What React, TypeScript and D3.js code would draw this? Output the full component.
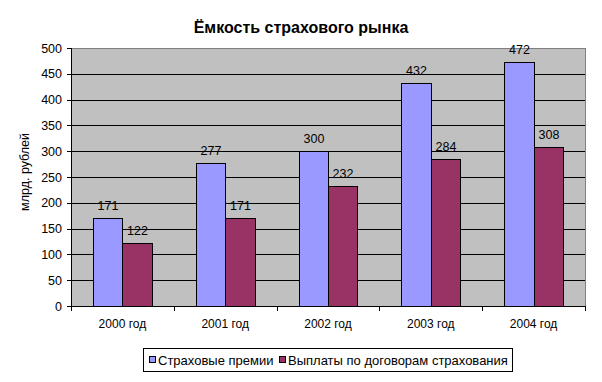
import React from "react";
import * as d3 from "d3";

const categories = ["2000 год", "2001 год", "2002 год", "2003 год", "2004 год"];
const premiums = [171, 277, 300, 432, 472];
const payouts = [122, 171, 232, 284, 308];
const seriesNames = ["Страховые премии", "Выплаты по договорам страхования"];
const yTicks = [0, 50, 100, 150, 200, 250, 300, 350, 400, 450, 500];
const title = "Ёмкость страхового рынка";
const yTitle = "млрд. рублей";

const W = 602;
const H = 382;
const left = 71;
const right = 585;
const top = 48;
const bottom = 306;
const colors = ["#9999FF", "#993366"];
const font = "'Liberation Sans', Arial, sans-serif";

export default function App() {
  const x = d3.scaleBand<string>().domain(categories).range([left, right]).padding(0);
  const y = d3.scaleLinear().domain([0, 500]).range([bottom, top]);
  const bw = x.bandwidth() / 3.5;
  const off = bw * 0.75;
  const series = [premiums, payouts];

  return (
    <svg
      width={W}
      height={H}
      style={{ position: "absolute", left: 0, top: 0, background: "#fff" }}
      fontFamily={font}
    >
      <rect x={0} y={0} width={W} height={H} fill="#fff" />
      <text x={301} y={33} textAnchor="middle" fontSize={16} fontWeight="bold" fill="#000">
        {title}
      </text>
      {/* plot area */}
      <rect x={left} y={top} width={right - left} height={bottom - top} fill="#C0C0C0" />
      <line x1={left} x2={right + 0.5} y1={top + 0.5} y2={top + 0.5} stroke="#808080" />
      <line x1={right + 0.5} x2={right + 0.5} y1={top} y2={bottom} stroke="#808080" />
      {yTicks.slice(1, -1).map((t) => (
        <line
          key={t}
          x1={left}
          x2={right}
          y1={Math.round(y(t)) + 0.5}
          y2={Math.round(y(t)) + 0.5}
          stroke="#000"
        />
      ))}
      {/* bars */}
      {categories.map((c, i) =>
        series.map((s, j) => {
          const x0 = Math.round((x(c) as number) + off + j * bw);
          const x1 = Math.round((x(c) as number) + off + (j + 1) * bw);
          const yt = Math.round(y(s[i]));
          return (
            <g key={c + j}>
              <rect
                x={x0 + 0.5}
                y={yt + 0.5}
                width={x1 - x0}
                height={bottom - yt}
                fill={colors[j]}
                stroke="#000"
                strokeWidth={1}
              />
              <text
                x={(x0 + x1) / 2 + 0.5}
                y={yt - 8}
                textAnchor="middle"
                fontSize={12.5}
                fill="#000"
              >
                {s[i]}
              </text>
            </g>
          );
        })
      )}
      {/* axes */}
      <line x1={left + 0.5} x2={left + 0.5} y1={top} y2={bottom + 1} stroke="#000" />
      <line x1={left} x2={right + 1} y1={bottom + 0.5} y2={bottom + 0.5} stroke="#000" />
      {yTicks.map((t) => (
        <g key={t}>
          <line
            x1={left - 4}
            x2={left}
            y1={Math.round(y(t)) + 0.5}
            y2={Math.round(y(t)) + 0.5}
            stroke="#000"
          />
          <text x={62} y={y(t) + 4.5} textAnchor="end" fontSize={12.5} fill="#000">
            {t}
          </text>
        </g>
      ))}
      {categories.map((c, i) => (
        <line
          key={"t" + i}
          x1={Math.round(x(c) as number) + 0.5}
          x2={Math.round(x(c) as number) + 0.5}
          y1={bottom}
          y2={bottom + 5}
          stroke="#000"
        />
      ))}
      <line x1={right + 0.5} x2={right + 0.5} y1={bottom} y2={bottom + 5} stroke="#000" />
      {categories.map((c) => (
        <text
          key={"l" + c}
          x={(x(c) as number) + x.bandwidth() / 2}
          y={328}
          textAnchor="middle"
          fontSize={12}
          fill="#000"
        >
          {c}
        </text>
      ))}
      <text
        transform={`translate(29,${(top + bottom) / 2 - 5}) rotate(-90)`}
        textAnchor="middle"
        fontSize={12.5}
        fill="#000"
      >
        {yTitle}
      </text>
      {/* legend */}
      <rect x={143.5} y={348.5} width={369} height={23} fill="#fff" stroke="#000" />
      <rect x={149.5} y={356.5} width={6} height={6} fill={colors[0]} stroke="#000" />
      <text x={158} y={364.5} fontSize={13} fill="#000">
        {seriesNames[0]}
      </text>
      <rect x={279.5} y={356.5} width={6} height={6} fill={colors[1]} stroke="#000" />
      <text x={288} y={364.5} fontSize={13} fill="#000">
        {seriesNames[1]}
      </text>
    </svg>
  );
}
